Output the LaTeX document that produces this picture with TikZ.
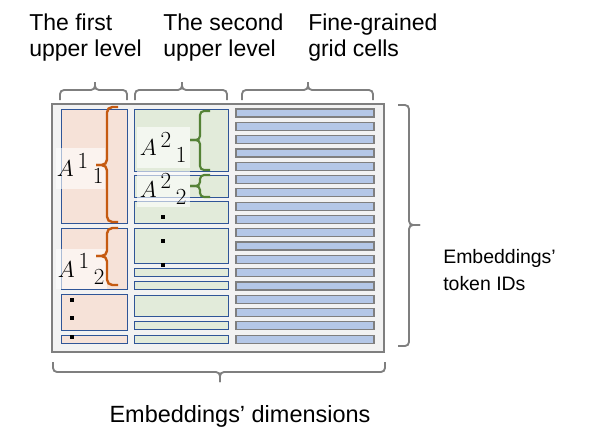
\documentclass[tikz,border=0pt]{standalone}
\usepackage{fontspec}
\setmainfont{Liberation Sans}
\usetikzlibrary{positioning}

\definecolor{framegray}{HTML}{7F7F7F}
\definecolor{framefill}{HTML}{F2F2F2}
\definecolor{cellblue}{HTML}{2F5597}
\definecolor{pinkfill}{HTML}{F6E2D8}
\definecolor{greenfill}{HTML}{E2EBDA}
\definecolor{barfill}{HTML}{B4C7E7}
\definecolor{bracerust}{HTML}{C55A11}
\definecolor{braceleaf}{HTML}{548235}

\newcommand{\Alab}[2]{$A^{\displaystyle\,#1}{}_{\displaystyle\,#2}$}

\begin{document}
\begin{tikzpicture}[x=0.75pt,y=-0.75pt,
  frame/.style={draw=framegray,fill=framefill,line width=1.6pt},
  pinkcell/.style={draw=cellblue,fill=pinkfill,line width=0.7pt},
  greencell/.style={draw=cellblue,fill=greenfill,line width=0.7pt},
  barcell/.style={draw=framegray,fill=barfill,line width=0.9pt},
  rustbrace/.style={draw=bracerust,line width=1.8pt,rounded corners=4pt},
  leafbrace/.style={draw=braceleaf,line width=1.6pt,rounded corners=3pt},
  graybrace/.style={draw=framegray,line width=1.4pt,rounded corners=3pt},
  albl/.style={fill=white,fill opacity=0.6,text opacity=1,inner sep=0pt,
    font=\fontsize{18}{20}\selectfont},
  toplbl/.style={anchor=base west,align=left,inner sep=0pt,
    font=\fontsize{17.25}{19}\selectfont},
]
\useasboundingbox (0,0) rectangle (600,440);

% matrix of embeddings
\draw[frame] (52,104) rectangle (384,352);
\foreach \ya/\yb in {109/223,228/289,294/330,335/343}
  \draw[pinkcell] (61,\ya) rectangle (127,\yb);
\foreach \ya/\yb in {109/171,175/197,201/223,228/263,268/276,281/289,295/316,321/329,335/343}
  \draw[greencell] (134,\ya) rectangle (228,\yb);
\foreach \i in {0,...,17}
  \draw[barcell] (236,109+13.3*\i) rectangle (374,117+13.3*\i);

% dots
\foreach \y in {300,318,337}
  \fill (72,\y) ++(-1.6,-1.6) rectangle ++(3.2,3.2);
\foreach \y in {217,241,265}
  \fill (163,\y) ++(-2,-2) rectangle ++(4,4);

% level labels
\node[albl,minimum width=36.75pt,minimum height=30.75pt] (a11) at (80.5,168.5) {\Alab{1}{1}};
\node[albl,minimum width=38.25pt,minimum height=30pt] (a12) at (81.5,269) {\Alab{1}{2}};
\node[albl,minimum width=39.75pt,minimum height=30.75pt] (a21) at (163.5,147.5) {\Alab{2}{1}};
\node[albl,minimum width=39.75pt,minimum height=27pt] (a22) at (163.5,189) {\Alab{2}{2}};

% braces inside
\draw[rustbrace] (118,107) -- (107,107) -- (107,165) -- (96,165);
\draw[rustbrace] (118,222) -- (107,222) -- (107,165) -- (96,165);
\draw[rustbrace] (118,228) -- (107,228) -- (107,256) -- (96,256);
\draw[rustbrace] (118,285) -- (107,285) -- (107,256) -- (96,256);
\draw[leafbrace] (210,111) -- (200,111) -- (200,140) -- (190,140);
\draw[leafbrace] (210,170) -- (200,170) -- (200,140) -- (190,140);
\draw[leafbrace] (210,175) -- (200,175) -- (200,186) -- (190,186);
\draw[leafbrace] (210,197) -- (200,197) -- (200,186) -- (190,186);

% braces outside
\draw[graybrace] (60,100) -- (60,90) -- (95,90) -- (95,82);
\draw[graybrace] (127,100) -- (127,90) -- (95,90) -- (95,82);
\draw[graybrace] (135,100) -- (135,90) -- (182,90) -- (182,82);
\draw[graybrace] (227,100) -- (227,90) -- (182,90) -- (182,82);
\draw[graybrace] (242,100) -- (242,90) -- (308,90) -- (308,82);
\draw[graybrace] (373,100) -- (373,90) -- (308,90) -- (308,82);
\draw[graybrace] (398,105) -- (409,105) -- (409,225) -- (420,225);
\draw[graybrace] (398,346) -- (409,346) -- (409,225) -- (420,225);
\draw[graybrace] (53,362) -- (53,372) -- (220,372) -- (220,382);
\draw[graybrace] (385,362) -- (385,372) -- (220,372) -- (220,382);

% captions
\node[toplbl] (first) at (29,56) {The first\\upper level};
\node[toplbl] (second) at (163,56) {The second\\upper level};
\node[toplbl] (fine) at (308,56) {Fine-grained\\grid cells};
\node[toplbl,font=\fontsize{14.6}{20.25}\selectfont] (tokens) at (443,290) {Embeddings’\\token IDs};
\node[anchor=base,inner sep=0pt,font=\fontsize{17.6}{20}\selectfont] (dims) at (240,422) {Embeddings’ dimensions};
\end{tikzpicture}
\end{document}
